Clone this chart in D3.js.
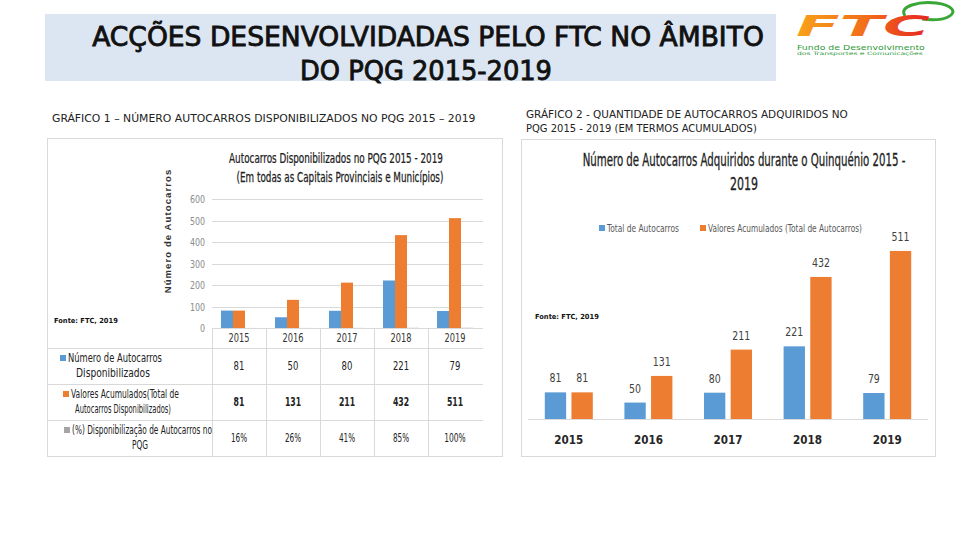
<!DOCTYPE html>
<html><head><meta charset="utf-8">
<script src="https://cdn.jsdelivr.net/npm/d3@7/dist/d3.min.js"></script>
<style>
body{margin:0;background:#fff;}
svg{display:block;}
text{font-family:"Liberation Sans Narrow","DejaVu Sans Condensed","Arial Narrow",sans-serif;}
</style></head>
<body><svg id="c" width="960" height="540"></svg>
<script>
const years = ["2015","2016","2017","2018","2019"];
const totals = [81, 50, 80, 221, 79];
const accumulated = [81, 131, 211, 432, 511];
const percents = [16, 26, 41, 85, 100];
const yTicks1 = [0, 100, 200, 300, 400, 500, 600];
const seriesNames1 = ["Número de Autocarros|Disponibilizados", "Valores Acumulados(Total de|Autocarros Disponibilizados)", "(%) Disponibilização de Autocarros no|PQG"];
const seriesNames2 = ["Total de Autocarros", "Valores Acumulados (Total de Autocarros)"];
const colors = ["#5b9bd5", "#ed7d31", "#a5a5a5"];

const svg = d3.select("#c");

// text helper: draws a text and squeezes it horizontally to a given width
function ftext(parent, x, y, str, size, width, o = {}) {
  const t = parent.append("text").attr("font-size", size)
    .attr("text-anchor", o.anchor || "start")
    .attr("fill", o.fill || "#222")
    .attr("font-weight", o.weight || "normal")
    .text(str);
  if (o.style) t.attr("font-style", o.style);
  if (o.family) t.style("font-family", o.family);
  if (o.stroke) t.attr("stroke", o.fill || "#222").attr("stroke-width", o.stroke);
  let s = o.sx || 1;
  if (width) { const w = t.node().getComputedTextLength(); s = width / w; }
  t.attr("transform", `translate(${x},${y}) scale(${s},1)`);
  return t;
}

// Banner
svg.append("rect").attr("x",45).attr("y",14).attr("width",731).attr("height",67).attr("fill","#dce6f2");
ftext(svg, 428, 46, "ACÇÕES DESENVOLVIDADAS PELO FTC NO  ÂMBITO", 26, 672, {anchor:"middle", fill:"#111", stroke:0.8});
ftext(svg, 426, 80, "DO PQG 2015-2019", 26, 252, {anchor:"middle", fill:"#111", stroke:0.8});

// Logo
const logo = svg.append("g");
const grad = svg.append("defs").append("linearGradient").attr("id","lg").attr("x1","0").attr("x2","1");
grad.append("stop").attr("offset","0").attr("stop-color","#f7a21b");
grad.append("stop").attr("offset","0.55").attr("stop-color","#f26a1b");
grad.append("stop").attr("offset","1").attr("stop-color","#e52421");
logo.append("path").attr("d","M905,16 C898,6 920,1 936,3 C952,5 958,12 948,17 C942,20 930,20 922,19")
  .attr("fill","none").attr("stroke","#3aa635").attr("stroke-width",3);
ftext(logo, 796, 36, "FTC", 28, 134, {fill:"url(#lg)", weight:"bold", style:"italic"});
ftext(logo, 797, 50, "Fundo de Desenvolvimento", 6.5, 128, {fill:"#2f9a3a"});
ftext(logo, 797, 55, "dos Transportes e Comunicações", 4.5, 126, {fill:"#2f9a3a"});

// Subtitles
ftext(svg, 52, 122, "GRÁFICO 1 – NÚMERO AUTOCARROS DISPONIBILIZADOS NO PQG 2015 – 2019", 11, 424);
ftext(svg, 526, 118, "GRÁFICO 2 - QUANTIDADE DE AUTOCARROS ADQUIRIDOS NO", 11, 322);
ftext(svg, 526, 132, "PQG 2015 - 2019 (EM TERMOS ACUMULADOS)", 11, 231);

// ================= Chart 1 =================
const c1 = svg.append("g");
c1.append("rect").attr("x",47.5).attr("y",138.5).attr("width",455).attr("height",318)
  .attr("fill","#fff").attr("stroke","#d9d9d9");
ftext(c1, 336, 163, "Autocarros Disponibilizados no PQG 2015 - 2019", 14, 214, {anchor:"middle", stroke:0.25});
ftext(c1, 340, 182, "(Em todas as Capitais Provinciais e Municípios)", 14, 207, {anchor:"middle", stroke:0.25});
c1.append("text").attr("transform","translate(171,231) rotate(-90)").attr("text-anchor","middle")
  .attr("font-size",9.5).attr("font-weight","bold").attr("fill","#333").attr("letter-spacing",1.1)
  .style("font-family","'Liberation Sans',Arial,sans-serif")
  .text("Número de Autocarros");

const x1 = d3.scaleBand().domain(years).range([212, 482]);
const y1 = d3.scaleLinear().domain([0, 600]).range([328, 199]);
c1.append("g").selectAll("line").data(yTicks1).join("line")
  .attr("x1",212).attr("x2",483).attr("y1",d=>Math.round(y1(d))+0.5).attr("y2",d=>Math.round(y1(d))+0.5)
  .attr("stroke","#d9d9d9");
const tickG = c1.append("g");
yTicks1.forEach(d=>ftext(tickG, 205, y1(d)+4, String(d), 11, null, {anchor:"end", fill:"#8c8c8c", sx:0.8}));

const series1 = [totals, accumulated, percents.map(p=>p/100)];
const xs1 = d3.scaleBand().domain([0,1,2]).range([0, 36]);
const b1 = c1.append("g");
years.forEach((yr,i)=>{
  series1.forEach((s,k)=>{
    b1.append("rect").attr("x",x1(yr)+(x1.bandwidth()-36)/2+xs1(k)).attr("width",xs1.bandwidth())
      .attr("y",y1(s[i])).attr("height",y1(0)-y1(s[i])).attr("fill",colors[k]);
  });
});

// data table
const tbl = c1.append("g");
const rowLines = [348, 384, 420];
tbl.selectAll("line.h").data(rowLines).join("line").attr("class","h")
  .attr("x1",48).attr("x2",483).attr("y1",d=>d+0.5).attr("y2",d=>d+0.5).attr("stroke","#d9d9d9");
const bounds = years.map(y=>x1(y));
tbl.selectAll("line.v").data(bounds).join("line").attr("class","v")
  .attr("x1",d=>Math.round(d)+0.5).attr("x2",d=>Math.round(d)+0.5).attr("y1",329).attr("y2",456)
  .attr("stroke","#d9d9d9");
years.forEach(d=>ftext(tbl, x1(d)+x1.bandwidth()/2, 342, d, 11.5, 21, {anchor:"middle", fill:"#333"}));
const rowY = [370, 406, 442];
const rowVals = [totals.map(String), accumulated.map(String), percents.map(p=>p+"%")];
rowVals.forEach((vals,r)=>{
  vals.forEach((v,i)=>ftext(tbl, x1(years[i])+x1.bandwidth()/2, rowY[r], v, 11.5, v.length*5.4,
    {anchor:"middle", weight: r===1?"bold":"normal"}));
});
const legCx = [110, 120, 137];
const legW1 = [94, 108, 140];
const legW2 = [74, 96, 16];
seriesNames1.forEach((nm,r)=>{
  const parts = nm.split("|");
  const ly = rowY[r]-8;
  ftext(tbl, legCx[r]+5, ly, parts[0], 11.5, legW1[r], {anchor:"middle"});
  tbl.append("rect").attr("x",legCx[r]+5-legW1[r]/2-8).attr("y",ly-7).attr("width",6).attr("height",6).attr("fill",colors[r]);
  ftext(tbl, legCx[r]+3, ly+15, parts[1], 11.5, legW2[r], {anchor:"middle"});
});
ftext(c1, 54, 323, "Fonte: FTC, 2019", 7, 64, {fill:"#111", weight:"bold", family:"'DejaVu Sans',sans-serif"});

// ================= Chart 2 =================
const c2 = svg.append("g");
c2.append("rect").attr("x",521.5).attr("y",139.5).attr("width",414).attr("height",317)
  .attr("fill","#fff").attr("stroke","#d9d9d9");
ftext(c2, 744, 166, "Número de Autocarros Adquiridos durante o Quinquénio 2015 -", 17, 323, {anchor:"middle", stroke:0.3});
ftext(c2, 744, 190, "2019", 17, 28, {anchor:"middle", stroke:0.3});

// legend
const legX = [599, 700];
const legTW = [72, 154];
seriesNames2.forEach((nm,k)=>{
  c2.append("rect").attr("x",legX[k]).attr("y",225).attr("width",6).attr("height",6).attr("fill",colors[k]);
  ftext(c2, legX[k]+8, 232, nm, 11, legTW[k], {fill:"#595959"});
});

const x2 = d3.scaleBand().domain(years).range([529, 927]);
const y2 = d3.scaleLinear().domain([0, 600]).range([419, 221.7]);
const xs2 = d3.scaleBand().domain([0,1]).range([0, 48]).paddingInner(0.2);
c2.append("line").attr("x1",528).attr("x2",928).attr("y1",419.5).attr("y2",419.5).attr("stroke","#d9d9d9");
const series2 = [totals, accumulated];
years.forEach((yr,i)=>{
  series2.forEach((s,k)=>{
    const bx = x2(yr)+(x2.bandwidth()-48)/2+xs2(k);
    c2.append("rect").attr("x",bx).attr("width",xs2.bandwidth())
      .attr("y",y2(s[i])).attr("height",y2(0)-y2(s[i])).attr("fill",colors[k]);
    const lab = String(s[i]);
    ftext(c2, bx+xs2.bandwidth()/2, y2(s[i])-10, lab, 13, lab.length*6, {anchor:"middle", fill:"#404040"});
  });
});
years.forEach(d=>ftext(c2, x2(d)+x2.bandwidth()/2, 444, d, 13, 29, {anchor:"middle", weight:"bold", fill:"#262626"}));
ftext(c2, 535, 319, "Fonte: FTC, 2019", 7, 64, {fill:"#111", weight:"bold", family:"'DejaVu Sans',sans-serif"});
</script></body></html>
